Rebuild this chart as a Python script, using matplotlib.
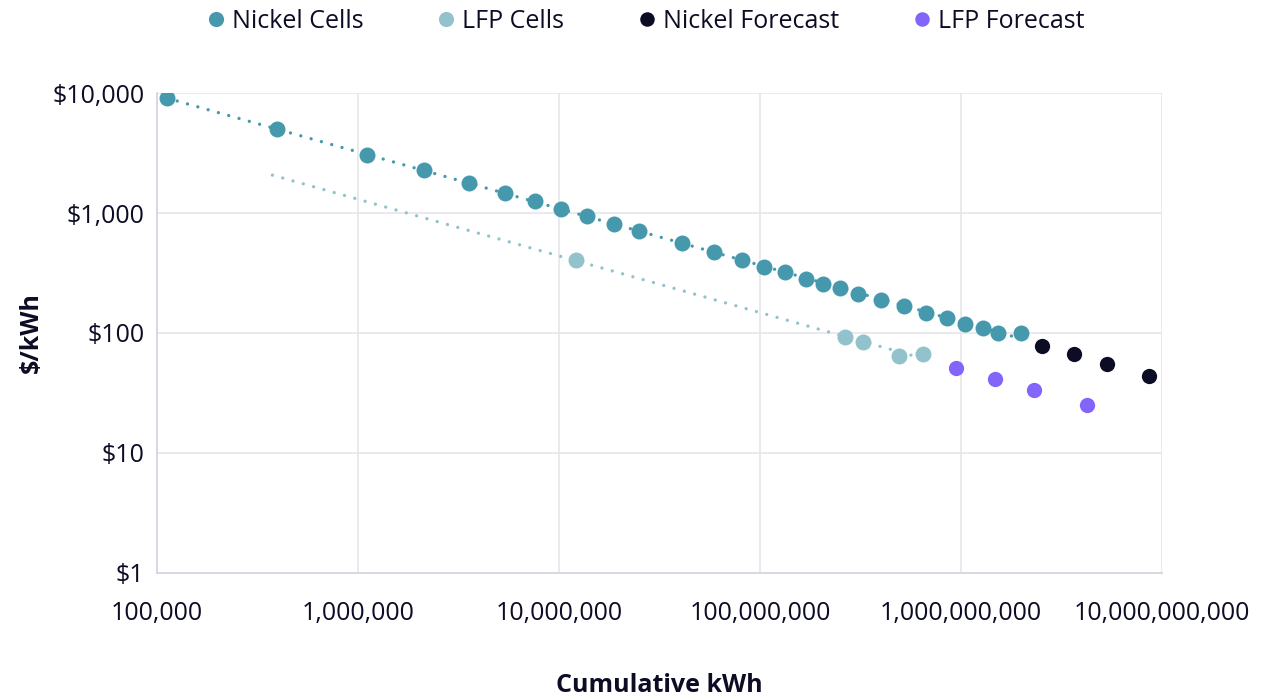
import numpy as np
import matplotlib
matplotlib.use("Agg")
import matplotlib.pyplot as plt
from matplotlib.ticker import FixedLocator, FuncFormatter, NullLocator

# ---- data ----
nickel_x = [1.12e5, 3.95e5, 1.11e6, 2.13e6, 3.56e6, 5.38e6, 7.6e6, 1.02e7, 1.38e7, 1.87e7,
            2.5e7, 4.09e7, 5.9e7, 8.13e7, 1.05e8, 1.33e8, 1.69e8, 2.06e8, 2.5e8, 3.07e8,
            4.0e8, 5.2e8, 6.7e8, 8.5e8, 1.05e9, 1.29e9, 1.53e9, 1.99e9]
nickel_y = [9090, 5000, 3040, 2280, 1778, 1468, 1259, 1080, 944, 810,
            708, 562, 473, 406, 355, 322, 282, 256, 237, 211,
            188, 168, 147, 133, 119, 110, 100, 100]
lfp_x = [1.21e7, 2.66e8, 3.27e8, 4.9e8, 6.44e8]
lfp_y = [404, 92.6, 84.6, 64.7, 66.4]
nickel_fc_x = [2.53e9, 3.65e9, 5.35e9, 8.61e9]
nickel_fc_y = [78.4, 66.4, 55.2, 44.1]
lfp_fc_x = [9.48e8, 1.47e9, 2.3e9, 4.23e9]
lfp_fc_y = [51.1, 41.6, 33.3, 25.0]
lfp_trend_start = 3.75e5  # backward forecast start of LFP power trendline

x_ticks = [1e5, 1e6, 1e7, 1e8, 1e9, 1e10]
y_ticks = [1, 10, 100, 1000, 10000]

# ---- style ----
C_NI = "#4699AC"
C_LFP = "#92C3CD"
C_NIF = "#0C0C24"
C_LFPF = "#8465F9"
TXT = "#0C0C24"
GRID = "#E3E3E9"
plt.rcParams['font.family'] = ['Open Sans', 'DejaVu Sans']

fig = plt.figure(figsize=(12.61, 6.98), dpi=100)
ax = fig.add_axes([157/1261, 1-573/698, (1162-157)/1261, (573-93)/698])
ax.set_xscale('log')
ax.set_yscale('log')
ax.set_xlim(1e5, 1e10)
ax.set_ylim(1, 10000)

def power_fit(xs, ys):
    lx, ly = np.log10(xs), np.log10(ys)
    b, a = np.polyfit(lx, ly, 1)
    return a, b

dot = dict(linestyle=(0, (0.01, 3.2)), dash_capstyle='round', linewidth=2.4, zorder=2)

a, b = power_fit(nickel_x, nickel_y)
tx = np.logspace(np.log10(min(nickel_x)), np.log10(max(nickel_x)), 50)
ax.plot(tx, 10**(a + b*np.log10(tx)), color=C_NI, **dot)

a, b = power_fit(lfp_x, lfp_y)
tx = np.logspace(np.log10(lfp_trend_start), np.log10(max(lfp_x)), 50)
ax.plot(tx, 10**(a + b*np.log10(tx)), color=C_LFP, **dot)

ms = 11.5
ax.plot(nickel_x, nickel_y, 'o', color=C_NI, ms=ms, mew=0, zorder=3, label='Nickel Cells')
ax.plot(lfp_x, lfp_y, 'o', color=C_LFP, ms=ms, mew=0, zorder=3, label='LFP Cells')
ax.plot(nickel_fc_x, nickel_fc_y, 'o', color=C_NIF, ms=11, mew=0, zorder=3, label='Nickel Forecast')
ax.plot(lfp_fc_x, lfp_fc_y, 'o', color=C_LFPF, ms=11, mew=0, zorder=3, label='LFP Forecast')

ax.xaxis.set_major_locator(FixedLocator(x_ticks))
ax.yaxis.set_major_locator(FixedLocator(y_ticks))
ax.xaxis.set_minor_locator(NullLocator())
ax.yaxis.set_minor_locator(NullLocator())
ax.xaxis.set_major_formatter(FuncFormatter(lambda v, p: f"{v:,.0f}"))
ax.yaxis.set_major_formatter(FuncFormatter(lambda v, p: f"${v:,.0f}"))
ax.tick_params(axis='both', length=0, labelsize=18, labelcolor=TXT)
ax.tick_params(axis='x', pad=20)
ax.tick_params(axis='y', pad=9)
ax.grid(True, color=GRID, linewidth=1.1, zorder=0)
ax.set_axisbelow(True)
for s in ['top', 'right']:
    ax.spines[s].set_visible(False)
for s in ['left', 'bottom']:
    ax.spines[s].set_color("#D6D6DE")
    ax.spines[s].set_linewidth(1.3)

ax.set_xlabel("Cumulative kWh", fontsize=18, fontweight='bold', color=TXT)
ax.xaxis.set_label_coords(0.5, -(686 - 573) / (573 - 93))
ax.xaxis.label.set_verticalalignment('center')
ax.set_ylabel("$/kWh", fontsize=18, fontweight='bold', color=TXT)
ax.yaxis.set_label_coords(-(157 - 31) / (1162 - 157), 0.5)
ax.yaxis.label.set_verticalalignment('center')

leg = fig.legend(loc='center', bbox_to_anchor=(644/1261, 1 - 21/698), ncol=4, frameon=False,
                 fontsize=18, handletextpad=0.15, columnspacing=2.8, markerscale=0.95,
                 handlelength=1.0, borderpad=0)
for t in leg.get_texts():
    t.set_color(TXT)

fig.savefig("out.png", dpi=100)
